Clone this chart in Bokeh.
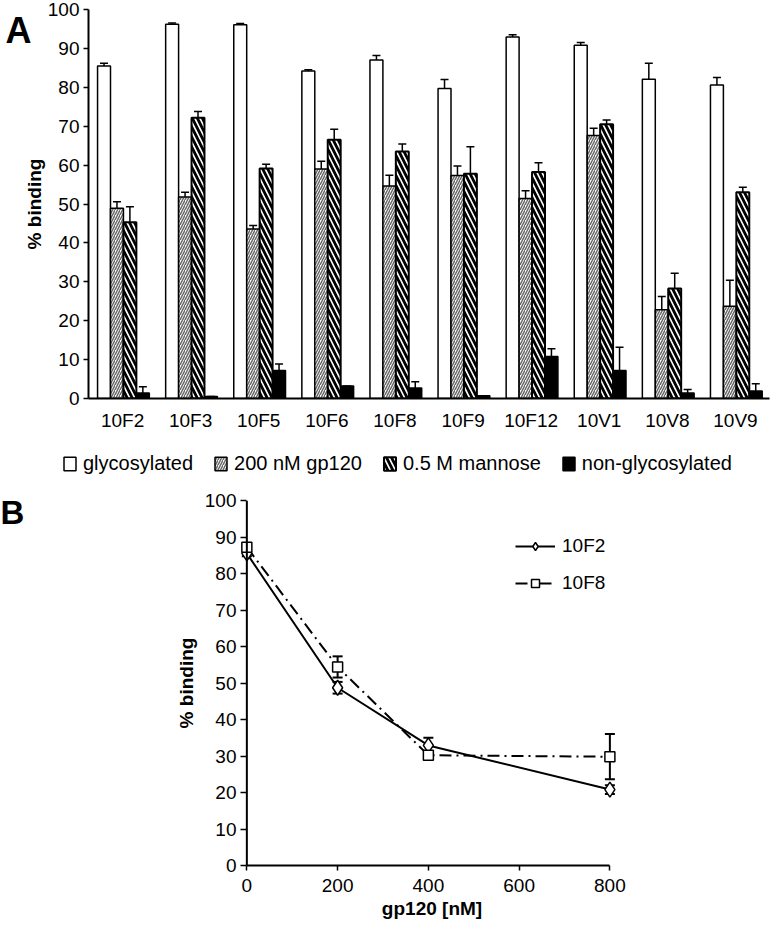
from bokeh.plotting import figure
from bokeh.models import (FactorRange, Range1d, Whisker, TeeHead, Legend, LegendItem,
                          Label, ColumnDataSource, LinearAxis, FixedTicker, Span)
from bokeh.transform import dodge
from bokeh.layouts import column, row
from bokeh.embed import file_html
from bokeh.resources import INLINE

# ---------------- Panel A data ----------------
categories = ["10F2", "10F3", "10F5", "10F6", "10F8", "10F9", "10F12", "10V1", "10V8", "10V9"]
glycosylated = [85.5, 96.2, 96.1, 84.2, 87.0, 79.7, 92.9, 90.8, 82.1, 80.6]
glycosylated_err = [0.7, 0.3, 0.3, 0.3, 1.2, 2.3, 0.6, 0.7, 4.1, 1.9]
gp120_200nM = [48.9, 51.8, 43.6, 59.0, 54.6, 57.3, 51.4, 67.6, 22.8, 23.7]
gp120_200nM_err = [1.7, 1.2, 0.9, 2.0, 2.8, 2.5, 2.0, 1.9, 3.4, 6.7]
mannose_05M = [45.3, 72.2, 59.1, 66.5, 63.5, 57.8, 58.2, 70.5, 28.3, 53.0]
mannose_05M_err = [4.0, 1.6, 1.1, 2.7, 1.9, 6.9, 2.4, 1.1, 3.9, 1.3]
non_glycosylated = [1.4, 0.5, 7.2, 3.2, 2.7, 0.7, 10.8, 7.2, 1.4, 1.9]
non_glycosylated_err = [1.6, 0.0, 1.7, 0.0, 1.6, 0.0, 2.0, 6.0, 0.9, 1.9]
series_labels = ["glycosylated", "200 nM gp120", "0.5 M mannose", "non-glycosylated"]

# ---------------- Panel B data ----------------
gp120_nM = [0, 200, 400, 800]
binding_10F2 = [85.5, 48.7, 32.9, 20.8]
binding_10F2_err = [0.8, 1.6, 2.1, 1.2]
binding_10F8 = [87.2, 54.4, 30.2, 29.8]
binding_10F8_err = [1.0, 2.9, 1.0, 6.2]
y_ticks = list(range(0, 101, 10))
x_ticks_b = [0, 200, 400, 600, 800]

FONT = "Liberation Sans"

# series styles (shared by bars and legend swatches)
STY = [
    dict(fill_color="white", line_color="black", line_width=1.5),
    dict(fill_color="white", line_color="black", line_width=1.5,
         hatch_pattern="/", hatch_color="#6a6a6a", hatch_scale=5, hatch_weight=1.5),
    dict(fill_color="white", line_color="black", line_width=2,
         hatch_pattern="\\", hatch_color="black", hatch_scale=10, hatch_weight=2.8),
    dict(fill_color="black", line_color="black", line_width=1.5),
]
cols = ["g", "p", "m", "n"]
cols_hi = ["g_hi", "p_hi", "m_hi", "n_hi"]
offsets = [-0.272, -0.082, 0.108, 0.298]
bw = 0.19


def style_axes(p):
    p.xgrid.grid_line_color = None
    p.ygrid.grid_line_color = None
    p.outline_line_color = None
    for ax in p.xaxis + p.yaxis:
        ax.axis_line_color = "black"
        ax.axis_line_width = 2
        ax.major_tick_line_color = "black"
        ax.major_tick_line_width = 1.5
        ax.major_tick_in = 0
        ax.major_tick_out = 5
        ax.minor_tick_line_color = None
        ax.major_label_text_font = FONT
        ax.major_label_text_font_size = "19px"
        ax.major_label_text_color = "black"
        ax.axis_label_text_font = FONT
        ax.axis_label_text_font_style = "bold"
        ax.axis_label_text_font_size = "19px"
        ax.axis_label_text_color = "black"


src = ColumnDataSource(dict(
    cat=categories,
    g=glycosylated, g_hi=[v + e for v, e in zip(glycosylated, glycosylated_err)],
    p=gp120_200nM, p_hi=[v + e for v, e in zip(gp120_200nM, gp120_200nM_err)],
    m=mannose_05M, m_hi=[v + e for v, e in zip(mannose_05M, mannose_05M_err)],
    n=non_glycosylated, n_hi=[v + e for v, e in zip(non_glycosylated, non_glycosylated_err)],
))

# ================= Panel A =================
pa = figure(x_range=FactorRange(factors=categories), y_range=Range1d(0, 100),
            frame_width=681, frame_height=389,
            min_border_left=88, min_border_right=1, min_border_top=9, min_border_bottom=42,
            output_backend="svg", toolbar_location=None)
style_axes(pa)
pa.yaxis.ticker = y_ticks
pa.yaxis.major_label_standoff = 4
pa.yaxis.axis_label = "% binding"
pa.yaxis.axis_label_standoff = 0
pa.xaxis.major_tick_line_color = None
pa.xaxis.major_tick_out = 0
pa.xaxis.major_label_standoff = 11

# panel letter "A" as an outer axis label
letter_a = LinearAxis(ticker=FixedTicker(ticks=[94.7]), major_label_overrides={94.7: "A"},
                      axis_line_color=None, major_tick_line_color=None, major_tick_out=0,
                      major_tick_in=0, axis_label_standoff=0,
                      minor_tick_line_color=None, minor_tick_out=0, major_label_standoff=-11,
                      major_label_text_font=FONT, major_label_text_font_style="bold",
                      major_label_text_font_size="36px", major_label_text_color="black")
pa.add_layout(letter_a, "left")

for off, lo, hi, sty in zip(offsets, cols, cols_hi, STY):
    pa.vbar(x=dodge("cat", off, range=pa.x_range), top=lo, width=bw, source=src, **sty)
    pa.add_layout(Whisker(base=dodge("cat", off, range=pa.x_range), lower=lo, upper=hi,
                          source=src, line_color="black", line_width=1.5,
                          lower_head=None,
                          upper_head=TeeHead(size=8, line_color="black", line_width=1.5)))

# ================= Legend strip for A =================
fl = figure(width=770, height=42, x_range=FactorRange(factors=categories),
            y_range=Range1d(0, 100), x_axis_type=None, y_axis_type=None, min_border=0,
            output_backend="svg", toolbar_location=None)
fl.outline_line_color = None
fl.xgrid.grid_line_color = None
fl.ygrid.grid_line_color = None
swatches = [fl.vbar(x=dodge("cat", off, range=fl.x_range), top=c, width=bw, source=src,
                    visible=False, **sty)
            for off, c, sty in zip(offsets, cols, STY)]
legend_a = Legend(items=[LegendItem(label=lab, renderers=[r])
                         for lab, r in zip(series_labels, swatches)],
                  orientation="horizontal", location=(62, 7),
                  glyph_width=15, glyph_height=17, label_standoff=6, spacing=20,
                  padding=0, margin=0, border_line_color=None, background_fill_alpha=0,
                  label_text_font=FONT, label_text_font_size="20px", label_text_color="black")
fl.add_layout(legend_a, "center")

# ================= Panel B =================
pb = figure(x_range=Range1d(-14, 830), y_range=Range1d(0, 100),
            frame_width=383, frame_height=365,
            min_border_left=82, min_border_right=147, min_border_top=18, min_border_bottom=58,
            output_backend="svg", toolbar_location=None)
style_axes(pb)
pb.xaxis.ticker = x_ticks_b
pb.xaxis.bounds = (0, 800)
pb.yaxis.ticker = y_ticks
pb.yaxis.axis_line_color = None
pb.yaxis.major_tick_out = 0
pb.yaxis.major_tick_in = 6
pb.add_layout(Span(location=0, dimension="height", line_color="black", line_width=2))
pb.xaxis.major_label_standoff = 8
pb.yaxis.major_label_standoff = 4
pb.xaxis.axis_label = "gp120 [nM]"
pb.xaxis.axis_label_standoff = 3
pb.yaxis.axis_label = "% binding"
pb.yaxis.axis_label_standoff = 5

srcb = ColumnDataSource(dict(
    x=gp120_nM,
    f2=binding_10F2,
    f2_lo=[v - e for v, e in zip(binding_10F2, binding_10F2_err)],
    f2_hi=[v + e for v, e in zip(binding_10F2, binding_10F2_err)],
    f8=binding_10F8,
    f8_lo=[v - e for v, e in zip(binding_10F8, binding_10F8_err)],
    f8_hi=[v + e for v, e in zip(binding_10F8, binding_10F8_err)],
))

l2 = pb.line("x", "f8", source=srcb, line_color="black", line_width=2, line_dash="12 5 2 5")
l1 = pb.line("x", "f2", source=srcb, line_color="black", line_width=2)
for lo, hi in [("f2_lo", "f2_hi"), ("f8_lo", "f8_hi")]:
    pb.add_layout(Whisker(base="x", lower=lo, upper=hi, source=srcb,
                          line_color="black", line_width=2,
                          lower_head=TeeHead(size=10, line_color="black", line_width=2),
                          upper_head=TeeHead(size=10, line_color="black", line_width=2)))
s1 = pb.scatter("x", "f2", source=srcb, marker="diamond", size=15,
                fill_color="white", line_color="black", line_width=1.5)
s2 = pb.scatter("x", "f8", source=srcb, marker="square", size=10,
                fill_color="white", line_color="black", line_width=1.5)

legend_b = Legend(items=[LegendItem(label="10F2", renderers=[l1, s1]),
                         LegendItem(label="10F8", renderers=[l2, s2])],
                  location=(275, 271), glyph_width=40, glyph_height=20, spacing=15,
                  label_standoff=7, padding=0, margin=0, border_line_color=None,
                  background_fill_alpha=0, label_text_font=FONT, label_text_font_size="19px",
                  label_text_color="black")
pb.add_layout(legend_b, "center")

# panel letter "B" (its frame is aligned with panel B's frame in the row)
fb = figure(width=158, height=441, x_range=Range1d(0, 1), y_range=Range1d(0, 1),
            x_axis_type=None, y_axis_type=None, min_border=0,
            output_backend="svg", toolbar_location=None)
fb.outline_line_color = None
fb.xgrid.grid_line_color = None
fb.ygrid.grid_line_color = None
fb.add_layout(Label(x=0, y=353, x_units="screen", y_units="screen", text="B",
                    text_font=FONT, text_font_style="bold", text_font_size="33px",
                    text_baseline="middle", text_align="left", text_color="black"))

layout = column(row(pa), row(fl), row(fb, pb))
open("out.html", "w").write(file_html(layout, INLINE))
